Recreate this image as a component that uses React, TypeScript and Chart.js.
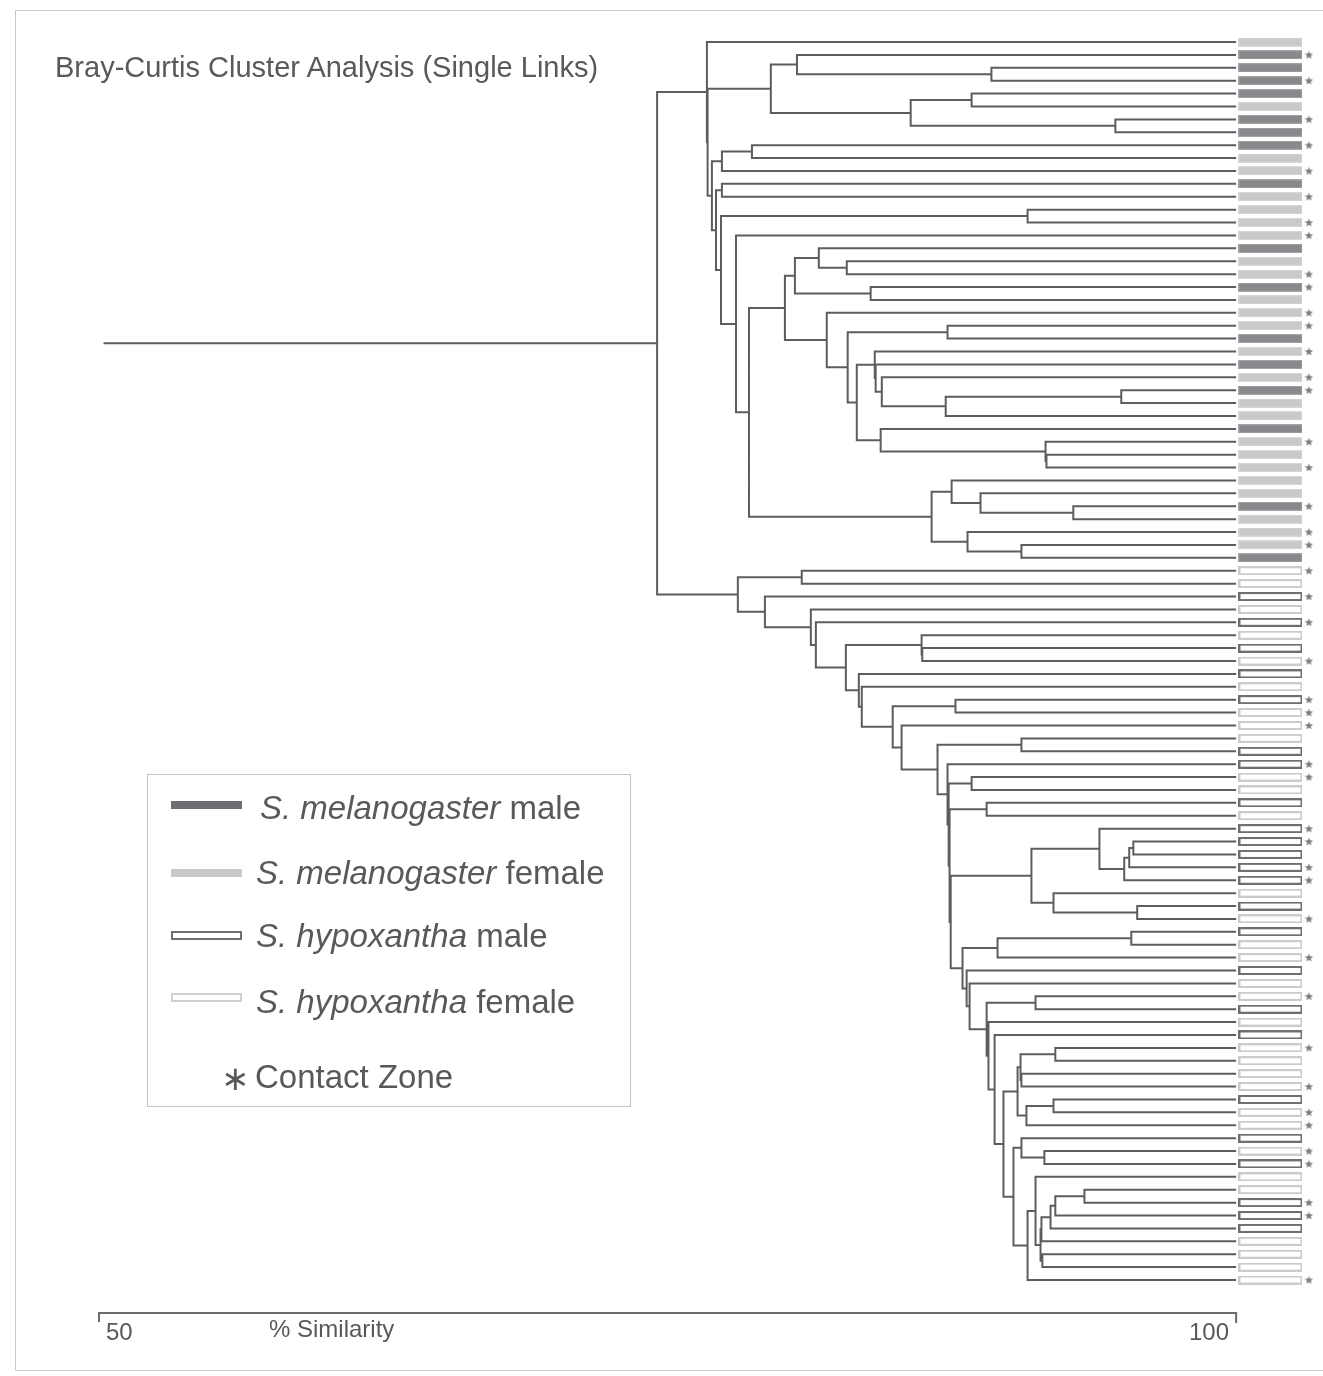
import React, { useEffect, useRef } from "react";
import { Chart, registerables } from "chart.js";

Chart.register(...registerables);

type Child = number | string;
type Merge = [string, Child, Child, number];

const chartTitle = "Bray-Curtis Cluster Analysis (Single Links)";
const axisTitle = "% Similarity";
const axisTicks = [50, 100];

// leaf groups, top to bottom
// M = S. melanogaster male, F = S. melanogaster female, h = S. hypoxantha male, f = S. hypoxantha female
const leafGroups: string[] = [
  "F", "M", "M", "M", "M", "F", "M", "M", "M", "F",
  "F", "M", "F", "F", "F", "F", "M", "F", "F", "M",
  "F", "F", "F", "M", "F", "M", "F", "M", "F", "F",
  "M", "F", "F", "F", "F", "F", "M", "F", "F", "F", "M",
  "f", "f", "h", "f", "h", "f", "h", "f", "h", "f",
  "h", "f", "f", "f", "h", "h", "f", "f", "h", "f",
  "h", "h", "h", "h", "h", "f", "h", "f", "h", "f",
  "f", "h", "f", "f", "h", "f", "h", "f", "f", "f",
  "f", "h", "f", "f", "h", "f", "h", "f", "f", "h",
  "h", "h", "f", "f", "f", "f",
];

// leaves from the contact zone (marked with a star)
const contactZone: number[] = [
  1, 3, 6, 8, 10, 12, 14, 15, 18, 19, 21, 22, 24, 26, 27, 31, 33, 36, 38, 39,
  41, 43, 45, 48, 51, 52, 53, 56, 57, 61, 62, 64, 65, 68, 71, 74, 78, 81, 83, 84,
  86, 87, 90, 91, 96,
];

// merges: [node, child A, child B, % similarity]; numbers are leaf indices
const melanogasterMerges: Merge[] = [
  ["a1", 6, 7, 94.69],
  ["a2", 2, 3, 89.24],
  ["a3", 1, "a2", 80.69],
  ["a4", 4, 5, 88.37],
  ["a5", "a4", "a1", 85.69],
  ["a6", "a3", "a5", 79.54],
  ["a7", 8, 9, 78.71],
  ["a8", "a7", 10, 77.39],
  ["a9", 11, 12, 77.39],
  ["a10", 13, 14, 90.83],
  ["a11", 17, 18, 82.88],
  ["a12", 16, "a11", 81.65],
  ["a13", 19, 20, 83.93],
  ["a14", "a12", "a13", 80.6],
  ["a15", 22, 23, 87.31],
  ["a16", 27, 28, 94.95],
  ["a17", "a16", 29, 87.23],
  ["a18", 26, "a17", 84.42],
  ["a19", 25, "a18", 84.15],
  ["a20", 24, "a19", 84.11],
  ["a21", 32, 33, 91.66],
  ["a22", 31, "a21", 91.62],
  ["a23", 30, "a22", 84.37],
  ["a24", "a20", "a23", 83.32],
  ["a25", "a15", "a24", 82.92],
  ["a26", 21, "a25", 82.0],
  ["a27", "a14", "a26", 80.16],
  ["a28", 36, 37, 92.84],
  ["a29", 35, "a28", 88.76],
  ["a30", 34, "a29", 87.49],
  ["a31", 39, 40, 90.56],
  ["a32", 38, "a31", 88.19],
  ["a33", "a30", "a32", 86.61],
  ["a34", "a27", "a33", 78.58],
  ["a35", 15, "a34", 78.01],
  ["a36", "a10", "a35", 77.35],
  ["a37", "a9", "a36", 77.13],
  ["a38", "a8", "a37", 76.95],
  ["a39", "a6", "a38", 76.76],
  ["a40", 0, "a39", 76.73],
];

const hypoxanthaMerges: Merge[] = [
  ["b1", 41, 42, 80.9],
  ["b2", 47, 48, 86.2],
  ["b3", 46, "b2", 86.17],
  ["b4", 51, 52, 87.66],
  ["b5", 54, 55, 90.56],
  ["b6", 57, 58, 88.37],
  ["b7", 59, 60, 89.03],
  ["b8", 62, 63, 95.48],
  ["b9", "b8", 64, 95.3],
  ["b10", "b9", 65, 95.08],
  ["b11", 61, "b10", 93.99],
  ["b12", 67, 68, 95.65],
  ["b13", 66, "b12", 91.97],
  ["b14", "b11", "b13", 91.0],
  ["b15", 69, 70, 95.39],
  ["b16", "b15", 71, 89.51],
  ["b17", 74, 75, 91.18],
  ["b18", 78, 79, 92.05],
  ["b19", 80, 81, 90.56],
  ["b20", "b18", "b19", 90.52],
  ["b21", 82, 83, 91.97],
  ["b22", "b21", 84, 90.78],
  ["b23", "b20", "b22", 90.39],
  ["b24", 86, 87, 91.57],
  ["b25", 85, "b24", 90.56],
  ["b26", 89, 90, 93.33],
  ["b27", "b26", 91, 92.05],
  ["b28", "b27", 92, 91.84],
  ["b29", "b28", 93, 91.44],
  ["b30", 94, 95, 91.48],
  ["b31", "b29", "b30", 91.4],
  ["b32", 88, "b31", 91.18],
  ["b33", "b32", 96, 90.83],
  ["b34", "b25", "b33", 90.21],
  ["b35", "b23", "b34", 89.77],
  ["b36", 77, "b35", 89.38],
  ["b37", 76, "b36", 89.11],
  ["b38", "b17", "b37", 89.03],
  ["b39", 73, "b38", 88.28],
  ["b40", 72, "b39", 88.15],
  ["b41", "b16", "b40", 87.97],
  ["b42", "b14", "b41", 87.45],
  ["b43", "b7", "b42", 87.4],
  ["b44", "b6", "b43", 87.36],
  ["b45", 56, "b44", 87.31],
  ["b46", "b5", "b45", 86.87],
  ["b47", 53, "b46", 85.29],
  ["b48", "b4", "b47", 84.9],
  ["b49", 50, "b48", 83.54],
  ["b50", 49, "b49", 83.41],
  ["b51", "b3", "b50", 82.84],
  ["b52", 45, "b51", 81.52],
  ["b53", 44, "b52", 81.3],
  ["b54", 43, "b53", 79.28],
  ["b55", "b1", "b54", 78.09],
];

const rootMerge: Merge = ["root", "a40", "b55", 74.54];
const rootStubEnd = 50.2;
const leafSimilarity = 100;

const legendItems = [
  { group: "M", species: "S. melanogaster", sex: "male" },
  { group: "F", species: "S. melanogaster", sex: "female" },
  { group: "h", species: "S. hypoxantha", sex: "male" },
  { group: "f", species: "S. hypoxantha", sex: "female" },
];
const contactLabel = "Contact Zone";

// ---- styling / layout constants ----
const W = 1323;
const H = 1376;
const X_MAX = 103.6;
const BAR_X = 101.51;
const STAR_X = 103.2;
const AXIS_Y = 1313;
const LINE = "#5c5d61";
const TEXT = "#58595c";
const FONT = '"Liberation Sans", Arial, Helvetica, sans-serif';

function makeBar(kind: string): HTMLCanvasElement {
  const c = document.createElement("canvas");
  c.width = 64;
  c.height = 9;
  const g = c.getContext("2d")!;
  if (kind === "M" || kind === "F") {
    g.fillStyle = kind === "M" ? "#a3a4a6" : "#d6d7d8";
    g.fillRect(0, 0, 64, 9);
    g.fillStyle = kind === "M" ? "#88898c" : "#c8c9cb";
    g.fillRect(1, 1, 62, 7);
  } else {
    g.fillStyle = "#ffffff";
    g.fillRect(0, 0, 64, 9);
    g.strokeStyle = kind === "h" ? "#6e6f72" : "#cacbcd";
    g.lineWidth = 2;
    g.strokeRect(1, 1, 62, 7);
  }
  return c;
}

function makeStar(): HTMLCanvasElement {
  const c = document.createElement("canvas");
  c.width = 9;
  c.height = 9;
  const g = c.getContext("2d")!;
  g.fillStyle = "#7a7b7e";
  g.beginPath();
  for (let k = 0; k < 10; k++) {
    const r = k % 2 === 0 ? 4.4 : 1.9;
    const a = -Math.PI / 2 + (k * Math.PI) / 5;
    const px = 4.5 + r * Math.cos(a);
    const py = 4.8 + r * Math.sin(a);
    if (k === 0) g.moveTo(px, py);
    else g.lineTo(px, py);
  }
  g.closePath();
  g.fill();
  return c;
}

function buildSegments() {
  const all: Merge[] = [...melanogasterMerges, ...hypoxanthaMerges, rootMerge];
  const byName = new Map<string, Merge>();
  all.forEach((m) => byName.set(m[0], m));
  const cache = new Map<string, { y: number; s: number }>();
  const pos = (c: Child): { y: number; s: number } => {
    if (typeof c === "number") return { y: c, s: leafSimilarity };
    const hit = cache.get(c);
    if (hit) return hit;
    const m = byName.get(c)!;
    const a = pos(m[1]);
    const b = pos(m[2]);
    const p = { y: (a.y + b.y) / 2, s: m[3] };
    cache.set(c, p);
    return p;
  };
  const pts: { x: number; y: number }[] = [];
  for (const m of all) {
    const a = pos(m[1]);
    const b = pos(m[2]);
    pts.push({ x: a.s, y: a.y }, { x: m[3], y: a.y }, { x: m[3], y: b.y }, { x: b.s, y: b.y }, { x: NaN, y: NaN });
  }
  const r = pos("root");
  pts.push({ x: r.s, y: r.y }, { x: rootStubEnd, y: r.y });
  return pts;
}

const axisPlugin = {
  id: "similarityAxis",
  afterDraw(chart: any) {
    const ctx = chart.ctx;
    const xs = chart.scales.x;
    const x0 = xs.getPixelForValue(axisTicks[0]);
    const x1 = xs.getPixelForValue(axisTicks[1]);
    ctx.save();
    ctx.strokeStyle = "#6a6b6e";
    ctx.lineWidth = 2;
    ctx.beginPath();
    ctx.moveTo(x0, AXIS_Y + 9);
    ctx.lineTo(x0, AXIS_Y);
    ctx.lineTo(x1, AXIS_Y);
    ctx.lineTo(x1, AXIS_Y + 10);
    ctx.stroke();
    ctx.restore();
  },
};

function Txt(props: { x: number; baseline: number; size: number; right?: boolean; children: React.ReactNode; family?: string }) {
  const { x, baseline, size, right, children, family } = props;
  return (
    <div
      style={{
        position: "absolute",
        left: x,
        top: baseline - size * 0.8465,
        fontSize: size,
        lineHeight: `${size}px`,
        whiteSpace: "nowrap",
        transform: right ? "translateX(-100%)" : undefined,
        fontFamily: family,
      }}
    >
      {children}
    </div>
  );
}

const swatchStyle = (g: string): React.CSSProperties => {
  const base: React.CSSProperties = { position: "absolute", left: 171, width: 71, boxSizing: "border-box" };
  if (g === "M") return { ...base, height: 8, background: "#6e6f72" };
  if (g === "F") return { ...base, height: 8, background: "#c8c9cb" };
  if (g === "h") return { ...base, height: 9, border: "2px solid #6e6f72", background: "#fff" };
  return { ...base, height: 9, border: "2px solid #d0d1d3", background: "#fff" };
};

export default function App() {
  const ref = useRef<HTMLCanvasElement>(null);

  useEffect(() => {
    const canvas = ref.current;
    if (!canvas) return;
    const barImgs: Record<string, HTMLCanvasElement> = {
      M: makeBar("M"),
      F: makeBar("F"),
      h: makeBar("h"),
      f: makeBar("f"),
    };
    const star = makeStar();
    const chart = new Chart(canvas, {
      type: "scatter",
      data: {
        datasets: [
          {
            data: buildSegments(),
            showLine: true,
            borderColor: LINE,
            backgroundColor: LINE,
            borderWidth: 2,
            pointRadius: 0,
            pointHoverRadius: 0,
            spanGaps: false,
            clip: false,
          } as any,
          {
            data: leafGroups.map((_, i) => ({ x: BAR_X, y: i })),
            pointStyle: (c: any) => barImgs[leafGroups[c.dataIndex]],
            pointRadius: 4,
            clip: false,
          } as any,
          {
            data: contactZone.map((i) => ({ x: STAR_X, y: i })),
            pointStyle: star,
            pointRadius: 4,
            clip: false,
          } as any,
        ],
      },
      options: {
        animation: false,
        responsive: false,
        events: [],
        layout: { padding: { left: 99, right: 3, top: 42, bottom: 96 } },
        scales: {
          x: { type: "linear", min: 50, max: X_MAX, display: false },
          y: { type: "linear", min: 0, max: leafGroups.length - 1, reverse: true, display: false },
        },
        plugins: { legend: { display: false }, tooltip: { enabled: false }, title: { display: false } },
      },
      plugins: [axisPlugin],
    });
    return () => chart.destroy();
  }, []);

  const rowBaselines = [819, 884, 947, 1013];
  const swatchTops = [801, 869, 931, 993];

  return (
    <div
      style={{
        position: "fixed",
        left: 0,
        top: 0,
        width: W,
        height: H,
        overflow: "hidden",
        background: "#ffffff",
        fontFamily: FONT,
        color: TEXT,
      }}
    >
      <div
        style={{
          position: "absolute",
          left: 15,
          top: 10,
          width: 1400,
          height: 1359,
          border: "1px solid #c9c9cb",
        }}
      />
      <canvas ref={ref} width={W} height={H} style={{ position: "absolute", left: 0, top: 0 }} />

      <Txt x={55} baseline={78} size={29}>
        {chartTitle}
      </Txt>

      <div
        style={{
          position: "absolute",
          left: 147,
          top: 774,
          width: 484,
          height: 333,
          border: "1px solid #c3c4c6",
          boxSizing: "border-box",
        }}
      />
      {legendItems.map((it, k) => (
        <React.Fragment key={k}>
          <div style={{ ...swatchStyle(it.group), top: swatchTops[k] }} />
          <Txt x={k === 0 ? 260 : 256} baseline={rowBaselines[k]} size={33}>
            <span style={{ fontStyle: "italic" }}>{it.species}</span> {it.sex}
          </Txt>
        </React.Fragment>
      ))}
      <Txt x={221} baseline={1090} size={34} family='"DejaVu Sans", sans-serif'>
        {"\u2217"}
      </Txt>
      <Txt x={255} baseline={1088} size={33}>
        {contactLabel}
      </Txt>

      <Txt x={106} baseline={1340} size={24}>
        {String(axisTicks[0])}
      </Txt>
      <Txt x={269} baseline={1337} size={24}>
        {axisTitle}
      </Txt>
      <Txt x={1229} baseline={1340} size={24} right>
        {String(axisTicks[1])}
      </Txt>
    </div>
  );
}
